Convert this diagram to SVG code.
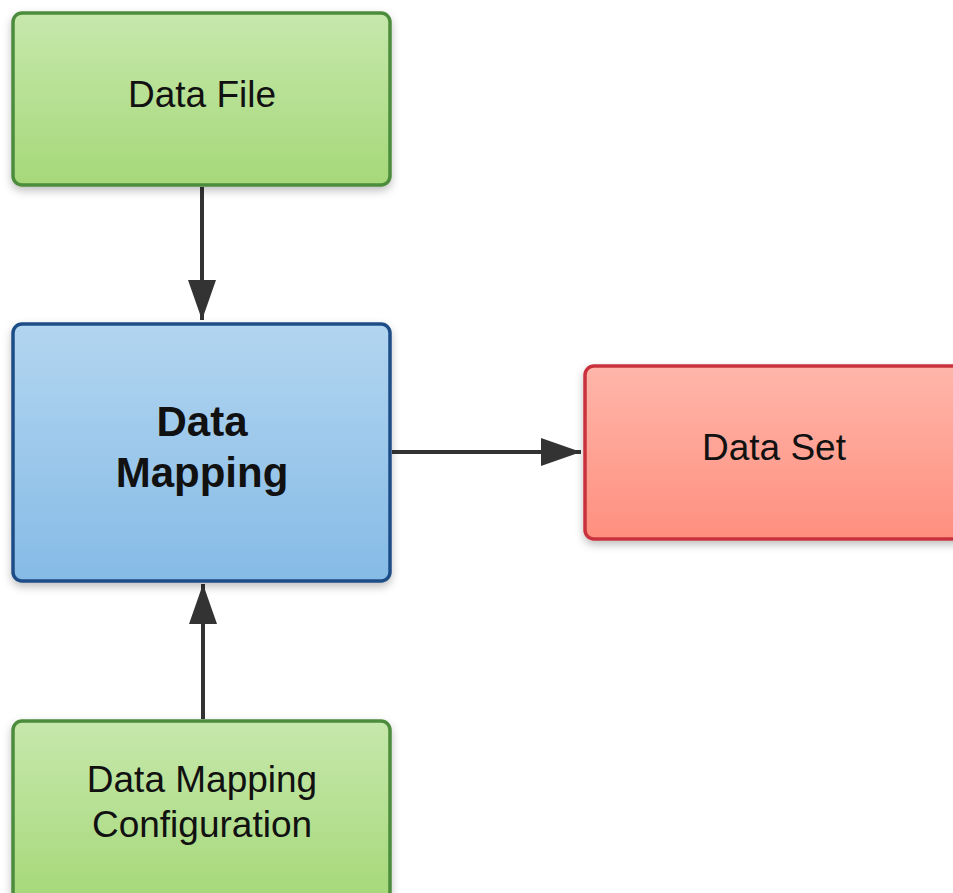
<svg xmlns="http://www.w3.org/2000/svg" width="953" height="893" viewBox="0 0 953 893">
<defs>
<linearGradient id="gGreen" x1="0" y1="0" x2="0" y2="1"><stop offset="0" stop-color="#c6e8ac"/><stop offset="1" stop-color="#a6d879"/></linearGradient>
<linearGradient id="gBlue" x1="0" y1="0" x2="0" y2="1"><stop offset="0" stop-color="#b2d5f0"/><stop offset="1" stop-color="#86bbe6"/></linearGradient>
<linearGradient id="gRed" x1="0" y1="0" x2="0" y2="1"><stop offset="0" stop-color="#ffb6aa"/><stop offset="1" stop-color="#ff8f7f"/></linearGradient>
<filter id="shadow" x="-10%" y="-10%" width="120%" height="130%"><feDropShadow dx="0" dy="4" stdDeviation="4" flood-color="#000" flood-opacity="0.25"/></filter>
<marker id="arrow" markerUnits="userSpaceOnUse" markerWidth="42" markerHeight="30" refX="40" refY="14" orient="auto"><path d="M0,0 L40,14 L0,28 Z" fill="#333"/></marker>
</defs>
<style>
.box{stroke-width:3.5;filter:url(#shadow)}
.green{fill:url(#gGreen);stroke:#4c8c3c}
.blue{fill:url(#gBlue);stroke:#1f4d86}
.red{fill:url(#gRed);stroke:#c9323e}
.t{font-family:"Liberation Sans",Arial,sans-serif;font-size:37px;fill:#111;text-anchor:middle}
.b{font-weight:bold;font-size:42px}
.conn{stroke:#333;stroke-width:4;fill:none;marker-end:url(#arrow)}
</style>
<rect width="953" height="893" fill="#fff"/>
<g id="connectors">
<line class="conn" x1="202" y1="187" x2="202" y2="320"/>
<line class="conn" x1="392" y1="452" x2="581" y2="452"/>
<line class="conn" x1="203" y1="719" x2="203" y2="584"/>
</g>
<g id="data-file">
<rect class="box green" x="13" y="13" width="377" height="172" rx="9"/>
<text class="t" x="202" y="107">Data File</text>
</g>
<g id="data-mapping">
<rect class="box blue" x="13" y="324" width="377" height="257" rx="9"/>
<text class="t b" x="202" y="436">Data</text>
<text class="t b" x="202" y="487">Mapping</text>
</g>
<g id="data-set">
<rect class="box red" x="585" y="366" width="378" height="173" rx="9"/>
<text class="t" x="774" y="460">Data Set</text>
</g>
<g id="data-mapping-configuration">
<rect class="box green" x="13" y="721" width="377" height="180" rx="9"/>
<text class="t" x="202" y="792">Data Mapping</text>
<text class="t" x="202" y="837">Configuration</text>
</g>
</svg>
